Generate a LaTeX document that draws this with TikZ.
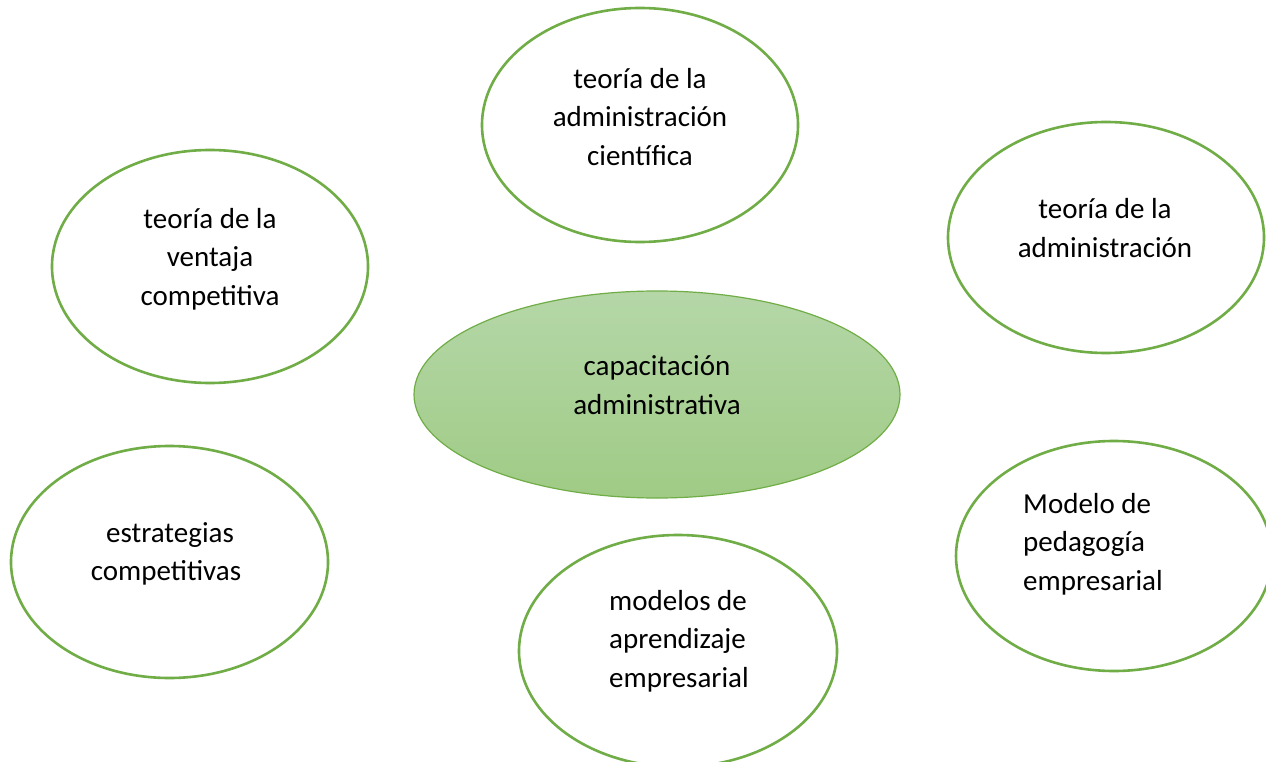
\documentclass[tikz,border=0pt]{standalone}
\usepackage{fontspec}
\setmainfont{Carlito}
\usetikzlibrary{shapes.geometric}
\definecolor{ringgreen}{HTML}{70AD47}
\definecolor{filltop}{HTML}{B5D7A8}
\definecolor{fillbot}{HTML}{9FCB85}
\tikzset{
  bubble/.style={ellipse, draw=ringgreen, line width=2.6pt, fill=white, inner sep=0pt},
  hub/.style={ellipse, draw=ringgreen, line width=1.2pt, top color=filltop, bottom color=fillbot, inner sep=0pt},
  label text/.style={font=\fontsize{29}{38.5}\selectfont, text=black, inner sep=0pt}
}
\begin{document}
\begin{tikzpicture}[x=1pt,y=-1pt]
\useasboundingbox (0,0) rectangle (1266,762);
\clip (0,0) rectangle (1266,762);
\fill[white] (0,0) rectangle (1266,762);
% ellipses
\node[bubble, minimum width=316pt, minimum height=234pt] (top) at (640,125) {};
\node[bubble, minimum width=316pt, minimum height=231pt] (right) at (1106,237.5) {};
\node[bubble, minimum width=316pt, minimum height=233pt] (left) at (210,266.5) {};
\node[hub, minimum width=486pt, minimum height=207pt] (hub) at (657,394.5) {};
\node[bubble, minimum width=317pt, minimum height=232pt] (strat) at (169.5,562) {};
\node[bubble, minimum width=318pt, minimum height=232pt] (learn) at (678,651) {};
\node[bubble, minimum width=316pt, minimum height=230pt] (ped) at (1114,556) {};
% texts
\node[label text, align=center] (ttop) at (640,117) {teoría de la\\administración\\científica};
\node[label text, align=center] (tright) at (1105,228) {teoría de la\\administración};
\node[label text, align=center] (tleft) at (210,259) {teoría de la\\ventaja\\competitiva};
\node[label text, align=center] (thub) at (657,385) {capacitación\\administrativa};
\node[label text, align=center] (tstrat) at (166,554) {\hspace*{8pt}estrategias\\competitivas};
\node[label text, align=left, anchor=west] (tlearn) at (609,641) {modelos de\\aprendizaje\\empresarial};
\node[label text, align=left, anchor=west] (tped) at (1023,544) {Modelo de\\pedagogía\\empresarial};
\end{tikzpicture}
\end{document}
